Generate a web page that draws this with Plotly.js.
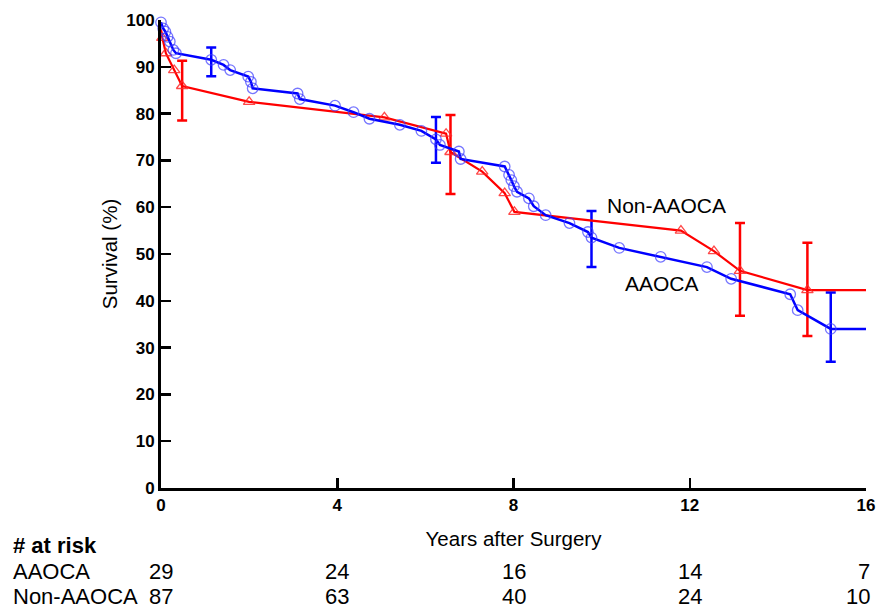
<!DOCTYPE html>
<html>
<head>
<meta charset="utf-8">
<script src="https://cdn.plot.ly/plotly-3.0.1.min.js"></script>
<style>html,body{margin:0;padding:0;background:#fff}#chart{width:877px;height:608px}</style>
</head>
<body>
<div id="chart"></div>
<script>
// AAOCA survival curve (years, %)
const aaocaX = [0, 0.05, 0.1, 0.15, 0.2, 0.28, 0.34, 1.14, 1.42, 1.57, 1.98, 2.04, 2.08, 3.1, 3.15, 3.95, 4.37, 4.73, 5.42, 5.91, 6.24, 6.33, 6.76, 6.8, 7.8, 7.9, 7.95, 8.01, 8.08, 8.35, 8.46, 8.73, 9.27, 9.69, 9.77, 10.4, 11.34, 12.39, 12.94, 14.28, 14.45, 15.2, 16];
const aaocaY = [99.5, 98.2, 97.5, 96.4, 95.4, 93.6, 92.9, 91.5, 90.4, 89.3, 87.9, 86.8, 85.4, 84.3, 83.1, 81.7, 80.3, 78.9, 77.6, 76.3, 74.5, 73.3, 71.9, 70.3, 68.7, 66.9, 65.8, 64.5, 63.3, 61.9, 60.2, 58.3, 56.6, 54.7, 53.5, 51.3, 49.4, 47.2, 44.7, 41.4, 38.0, 34.0, 34.0];
// Non-AAOCA survival curve
const nonX = [0, 0.03, 0.11, 0.3, 0.48, 2.0, 5.07, 6.47, 6.57, 7.29, 7.8, 8.02, 11.8, 12.55, 13.14, 14.67, 16];
const nonY = [98, 96.2, 92.9, 89.3, 85.9, 82.5, 79.2, 75.7, 71.8, 67.6, 63.0, 59.0, 55.0, 50.6, 46.4, 42.3, 42.3];
// Confidence bars (centre, upper, lower)
const aaocaErrX = [1.14, 6.24, 9.77, 15.2];
const aaocaErrY = [91.5, 74.5, 53.5, 34.0];
const aaocaErrHi = [94.1, 79.3, 59.2, 41.8];
const aaocaErrLo = [88.0, 69.5, 47.2, 27.0];
const nonErrX = [0.48, 6.57, 13.14, 14.67];
const nonErrY = [85.9, 71.8, 46.4, 42.3];
const nonErrHi = [91.3, 79.7, 56.6, 52.4];
const nonErrLo = [78.5, 62.8, 36.8, 32.5];
// Axis ticks
const xTicks = [0, 4, 8, 12, 16];
const yTicks = [0, 10, 20, 30, 40, 50, 60, 70, 80, 90, 100];
// Number at risk
const riskYears = [0, 4, 8, 12, 16];
const riskAaoca = [29, 24, 16, 14, 7];
const riskNon = [87, 63, 40, 24, 10];

const BLUE = '#0000ff', RED = '#ff0000';
const font = 'Liberation Sans, Arial, Helvetica, sans-serif';

function errTrace(x, y, hi, lo, color) {
  return {
    x: x, y: y, type: 'scatter', mode: 'markers',
    marker: {size: 1, opacity: 0}, hoverinfo: 'skip', cliponaxis: false,
    error_y: {type: 'data', symmetric: false,
      array: hi.map((v, i) => v - y[i]), arrayminus: lo.map((v, i) => y[i] - v),
      color: color, thickness: 2.5, width: 5}
  };
}

const traces = [
  errTrace(nonErrX, nonErrY, nonErrHi, nonErrLo, RED),
  errTrace(aaocaErrX, aaocaErrY, aaocaErrHi, aaocaErrLo, BLUE),
  {x: nonX, y: nonY, type: 'scatter', mode: 'lines', line: {color: RED, width: 2.2}, cliponaxis: false},
  {x: nonX.slice(1, -1), y: nonY.slice(1, -1), type: 'scatter', mode: 'markers', cliponaxis: false,
    marker: {symbol: 'triangle-up-open', size: 10, color: 'rgba(255,40,40,0.85)', line: {width: 1.3}}},
  {x: aaocaX, y: aaocaY, type: 'scatter', mode: 'lines', line: {color: BLUE, width: 2.5}, cliponaxis: false},
  {x: aaocaX.slice(0, -1), y: aaocaY.slice(0, -1), type: 'scatter', mode: 'markers', cliponaxis: false,
    marker: {symbol: 'circle-open', size: 10.5, color: 'rgba(60,60,255,0.7)', line: {width: 1.3}}}
];

const T = 22;
const annotations = [
  {x: 11.48, y: 60.3, xref: 'x', yref: 'y', text: 'Non-AAOCA', showarrow: false,
    font: {family: font, size: 21, color: '#000'}, xanchor: 'center', yanchor: 'middle'},
  {x: 11.375, y: 43.8, xref: 'x', yref: 'y', text: 'AAOCA', showarrow: false,
    font: {family: font, size: 21, color: '#000'}, xanchor: 'center', yanchor: 'middle'},
  {x: 0, y: -0.1218, xref: 'paper', yref: 'paper', text: '<b># at risk</b>', showarrow: false,
    font: {family: font, size: T, color: '#000'}, xanchor: 'left', yanchor: 'middle'},
  {x: 0, y: -0.1774, xref: 'paper', yref: 'paper', text: 'AAOCA', showarrow: false,
    font: {family: font, size: T, color: '#000'}, xanchor: 'left', yanchor: 'middle'},
  {x: 0, y: -0.2329, xref: 'paper', yref: 'paper', text: 'Non-AAOCA', showarrow: false,
    font: {family: font, size: T, color: '#000'}, xanchor: 'left', yanchor: 'middle'}
];
riskYears.forEach((yr, i) => {
  const last = i === riskYears.length - 1;
  const xa = last ? 'right' : 'center';
  const xs = last ? 6 : 0;
  annotations.push({x: yr, xshift: xs, y: -0.1774, xref: 'x', yref: 'paper', text: String(riskAaoca[i]), showarrow: false,
    font: {family: font, size: T, color: '#000'}, xanchor: xa, yanchor: 'middle'});
  annotations.push({x: yr, xshift: xs, y: -0.2329, xref: 'x', yref: 'paper', text: String(riskNon[i]), showarrow: false,
    font: {family: font, size: T, color: '#000'}, xanchor: xa, yanchor: 'middle'});
});
// Row labels sit at the page's left edge (paper x is relative to the plot area)
annotations.forEach(a => { if (a.xref === 'paper') a.x = (11 - 161) / 705; });

const layout = {
  width: 877, height: 608,
  margin: {l: 161, r: 11, t: 20, b: 120},
  paper_bgcolor: '#fff', plot_bgcolor: '#fff',
  showlegend: false,
  font: {family: font, color: '#000'},
  xaxis: {
    range: [0, 16], tickvals: xTicks, ticks: 'inside', ticklen: 10, tickwidth: 2.5, tickcolor: '#000',
    showline: true, linewidth: 3, linecolor: '#000', showgrid: false, zeroline: false, fixedrange: true,
    tickfont: {family: font, size: 17, color: '#000', weight: 'bold'},
    title: {text: 'Years after Surgery', font: {family: font, size: 20.5, color: '#000'}, standoff: 18}
  },
  yaxis: {
    range: [0, 100], tickvals: yTicks, ticks: 'inside', ticklen: 10, tickwidth: 2.5, tickcolor: '#000',
    showline: true, linewidth: 3, linecolor: '#000', showgrid: false, zeroline: false, fixedrange: true,
    tickfont: {family: font, size: 17, color: '#000', weight: 'bold'},
    title: {text: 'Survival (%)', font: {family: font, size: 20.5, color: '#000'}, standoff: 4}
  },
  annotations: annotations
};

Plotly.newPlot('chart', traces, layout, {displayModeBar: false, staticPlot: true});
</script>
</body>
</html>
